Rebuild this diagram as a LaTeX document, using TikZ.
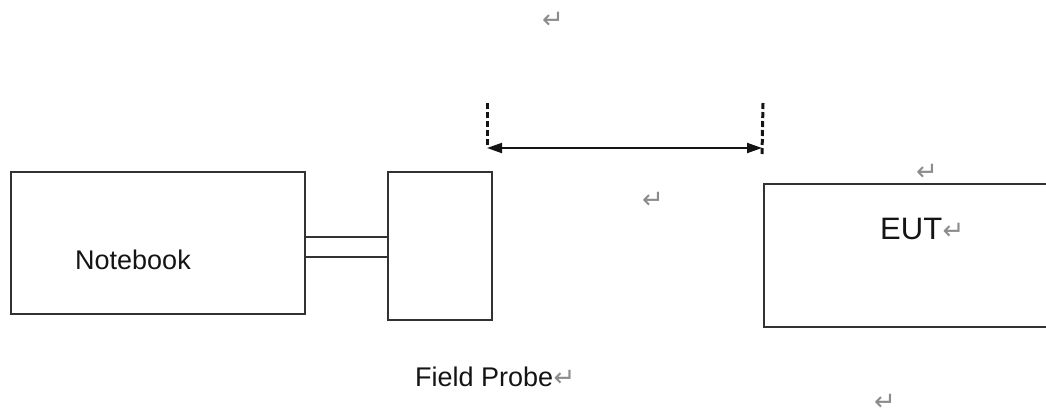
\documentclass[tikz,border=0pt]{standalone}
\usepackage{fontspec}
\setmainfont{Liberation Sans}
\newfontfamily\markfont{DejaVu Sans}
\usetikzlibrary{arrows.meta,positioning}
\definecolor{edge}{RGB}{50,50,50}
\definecolor{ink}{RGB}{20,20,20}
\definecolor{retmark}{RGB}{140,140,140}

\begin{document}
\begin{tikzpicture}[x=1pt, y=-1pt,
  box/.style={draw=edge, line width=2pt, inner sep=0pt, anchor=north west},
  lbl/.style={font=\fontsize{27}{30}\selectfont, text=ink, inner sep=0pt, anchor=base west},
  ret/.style={font=\markfont\fontsize{26}{28}\selectfont, text=retmark, inner sep=0pt},
  guide/.style={draw=ink, line width=3pt, dash pattern=on 6pt off 3pt}]
  \useasboundingbox (0,0) rectangle (1046,416);
  \clip (0,0) rectangle (1046,416);
  % boxes
  \node[box, minimum width=294pt, minimum height=142pt] (notebook) at (10,171) {};
  \node[box, minimum width=104pt, minimum height=148pt] (probe) at (387,171) {};
  \node[box, minimum width=320pt, minimum height=143pt] (eut) at (763,183) {};
  % cable
  \coordinate (cabtop) at (0,236.5);
  \coordinate (cabbot) at (0,256.5);
  \draw[edge, line width=2pt] (notebook.east |- cabtop) -- (probe.west |- cabtop);
  \draw[edge, line width=2pt] (notebook.east |- cabbot) -- (probe.west |- cabbot);
  % distance marker
  \coordinate (dimL) at (487,148);
  \coordinate (dimR) at (762,148);
  \coordinate (dimLtop) at (487,103);
  \coordinate (dimRtop) at (763,103);
  \draw[guide] (dimLtop) -- (dimL);
  \draw[guide] (dimRtop) -- ([yshift=-7pt]dimR);
  \draw[ink, line width=2pt, {Triangle[length=15pt,width=10pt]}-{Triangle[length=15pt,width=10pt]}] (dimL) -- (dimR);
  % labels
  \node[lbl] (nbtext) at (75,269) {Notebook};
  \node[lbl] (fptext) at (415,386) {Field Probe};
  \node[lbl, font=\fontsize{31}{34}\selectfont] (euttext) at (880,239) {EUT};
  % paragraph marks
  \node[ret, anchor=base west] (eutret) at (euttext.base east) {↵};
  \node[ret, anchor=base west] (fpret) at (fptext.base east) {↵};
  \node[ret] (ret1) at (553,20) {↵};
  \node[ret] (ret2) at (653,200) {↵};
  \node[ret] (ret3) at (927,172) {↵};
  \node[ret] (ret4) at (885,402) {↵};
\end{tikzpicture}
\end{document}
